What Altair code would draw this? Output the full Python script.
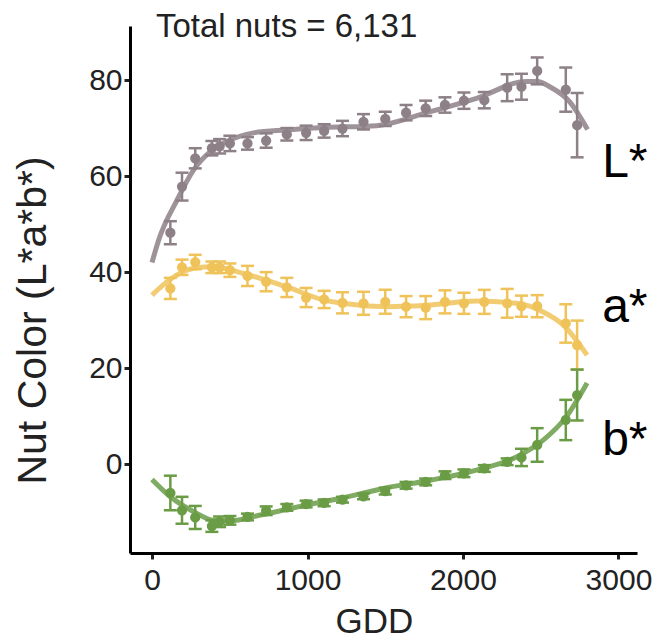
import altair as alt
import pandas as pd

# ---- data ----
gdd = [118, 193, 278, 385, 435, 501, 614, 734, 867, 991, 1107, 1225,
       1360, 1500, 1634, 1760, 1884, 2006, 2137, 2284, 2376, 2477, 2661, 2734]

L_mean = [48.2, 57.8, 63.7, 65.8, 66.2, 66.8, 66.8, 67.4, 68.7, 69.0, 69.4, 69.9,
          71.3, 71.9, 73.2, 74.1, 74.8, 75.7, 75.8, 78.4, 78.6, 81.9, 78.0, 70.6]
L_err = [2.4, 2.9, 2.1, 1.5, 1.5, 1.6, 1.3, 1.5, 1.3, 1.5, 1.4, 1.6,
         1.6, 1.5, 1.6, 1.6, 1.6, 1.7, 1.7, 2.8, 2.7, 2.8, 4.6, 6.7]

a_mean = [36.6, 41.0, 42.1, 41.0, 41.0, 40.4, 39.2, 38.0, 36.8, 34.7, 34.3, 33.6,
          33.5, 33.8, 32.8, 32.6, 33.8, 33.5, 33.8, 33.5, 32.9, 32.9, 29.3, 24.8]
a_err = [2.2, 1.6, 1.5, 1.2, 1.2, 1.4, 2.1, 2.0, 2.0, 2.0, 1.8, 2.2,
         2.4, 2.5, 2.2, 2.4, 2.4, 2.2, 2.5, 3.0, 2.2, 2.3, 4.0, 5.1]

b_mean = [-6.0, -9.6, -11.1, -12.9, -12.0, -11.7, -11.0, -9.7, -9.0, -8.3, -8.05, -7.4,
          -6.7, -5.6, -4.4, -3.7, -2.3, -1.9, -0.9, 0.5, 1.4, 4.0, 9.2, 14.4]
b_err = [3.6, 2.8, 2.4, 1.2, 1.1, 0.9, 0.7, 0.9, 0.7, 0.7, 0.7, 0.6,
         0.6, 0.7, 0.7, 0.7, 0.8, 0.8, 0.7, 0.7, 1.8, 3.5, 4.2, 5.3]

# fitted curves
L_curve_x = [0, 43, 161, 268, 375, 482, 653, 867, 1103, 1445, 1766, 2087, 2408, 2480, 2557, 2685, 2801]
L_curve_y = [42.0, 46.7, 55.0, 61.3, 65.1, 67.2, 69.0, 69.6, 70.1, 70.5, 73.2, 76.2, 79.7, 79.7, 78.6, 75.5, 69.7]

a_curve_x = [0, 118, 268, 396, 589, 867, 1103, 1338, 1509, 1766, 2087, 2344, 2516, 2644, 2798]
a_curve_y = [35.2, 38.5, 40.8, 41.1, 39.7, 36.9, 34.2, 33.1, 32.8, 33.1, 34.0, 33.5, 31.7, 29.0, 22.7]

b_curve_x = [0, 118, 268, 396, 503, 696, 996, 1230, 1509, 1766, 2087, 2344, 2516, 2665, 2798]
b_curve_y = [-3.2, -6.8, -9.9, -11.7, -11.8, -10.6, -8.5, -7.0, -4.9, -3.5, -1.25, 1.5, 5.0, 9.9, 16.9]

series = ["L*", "a*", "b*"]
point_colors = ["#7c6e75", "#e8b43c", "#4e8a2c"]
curve_colors = ["#8d8087", "#efc35a", "#6a9c46"]

label_text = ["L*", "a*", "b*"]
label_gdd = [2895, 2895, 2895]
label_val = [59.8, 29.6, 1.9]

note_text = ["Total nuts = 6,131"]
note_gdd = [25]
note_val = [88.9]

x_ticks = [0, 1000, 2000, 3000]
y_ticks = [0, 20, 40, 60, 80]

# ---- tables ----
rows = []
for s, m, e in zip(series, [L_mean, a_mean, b_mean], [L_err, a_err, b_err]):
    for g, v, er in zip(gdd, m, e):
        rows.append({"series": s, "gdd": g, "value": v, "lo": v - er, "hi": v + er})
pts = pd.DataFrame(rows)

crow = []
for s, xs, ys in zip(series, [L_curve_x, a_curve_x, b_curve_x], [L_curve_y, a_curve_y, b_curve_y]):
    for i, (g, v) in enumerate(zip(xs, ys)):
        crow.append({"series": s, "gdd": g, "value": v, "order": i})
curves = pd.DataFrame(crow)

labels = pd.DataFrame({"text": label_text, "gdd": label_gdd, "value": label_val})
note = pd.DataFrame({"text": note_text, "gdd": note_gdd, "value": note_val})

FONT = "Liberation Sans"

xscale = alt.Scale(domain=[-141.5, 3119], nice=False, zero=False)
yscale = alt.Scale(domain=[-18.5, 91.25], nice=False, zero=False)

xenc = alt.X("gdd:Q", scale=xscale,
             axis=alt.Axis(values=x_ticks, format="d", title="GDD",
                           titleFontSize=35, titleX=244, titleY=79,
                           titleBaseline="alphabetic", titleAlign="center",
                           labelPadding=6))
yenc = alt.Y("value:Q", scale=yscale,
             axis=alt.Axis(values=y_ticks, format="d", title="Nut Color (L*a*b*)",
                           titleFontSize=41, titleX=-85, titleY=294,
                           titleBaseline="alphabetic", titleAlign="center",
                           labelPadding=2))

pcolor = alt.Color("series:N", scale=alt.Scale(domain=series, range=point_colors), legend=None)
ccolor = alt.Color("series:N", scale=alt.Scale(domain=series, range=curve_colors), legend=None)

base = alt.Chart(pts)

curve_layer = alt.Chart(curves).mark_line(strokeWidth=5, opacity=0.85, interpolate="monotone").encode(
    x=xenc, y=yenc, color=ccolor, order="order:Q")

rule_layer = base.mark_rule(strokeWidth=2.5).encode(
    x="gdd:Q", y="lo:Q", y2="hi:Q", color=pcolor)
cap_lo = base.mark_tick(orient="horizontal", size=13, thickness=2.5, opacity=1).encode(
    x="gdd:Q", y="lo:Q", color=pcolor)
cap_hi = base.mark_tick(orient="horizontal", size=13, thickness=2.5, opacity=1).encode(
    x="gdd:Q", y="hi:Q", color=pcolor)
point_layer = base.mark_circle(size=105, opacity=1).encode(
    x="gdd:Q", y="value:Q", color=pcolor)

text_layer = alt.Chart(labels).mark_text(fontSize=48, font=FONT, align="left",
                                         baseline="alphabetic", color="black").encode(
    x="gdd:Q", y="value:Q", text="text:N")

note_layer = alt.Chart(note).mark_text(fontSize=33, font=FONT, align="left",
                                       baseline="alphabetic", color="#222222").encode(
    x="gdd:Q", y="value:Q", text="text:N")

chart = alt.layer(curve_layer, rule_layer, cap_lo, cap_hi, point_layer, text_layer, note_layer).properties(
    width=507, height=527,
    padding={"left": 122, "top": 18, "right": 16, "bottom": 86},
    autosize=alt.AutoSizeParams(type="none"),
    background="white",
).configure_view(stroke=None).configure_axis(
    grid=False, domainColor="black", domainWidth=3, tickColor="#222222",
    tickWidth=3, tickSize=6, labelFontSize=30, labelFont=FONT, labelColor="#222222",
    titleFont=FONT, titleFontWeight="normal", titleColor="#222222",
)

chart.save("out.html", embed_options={"renderer": "svg", "actions": False})
